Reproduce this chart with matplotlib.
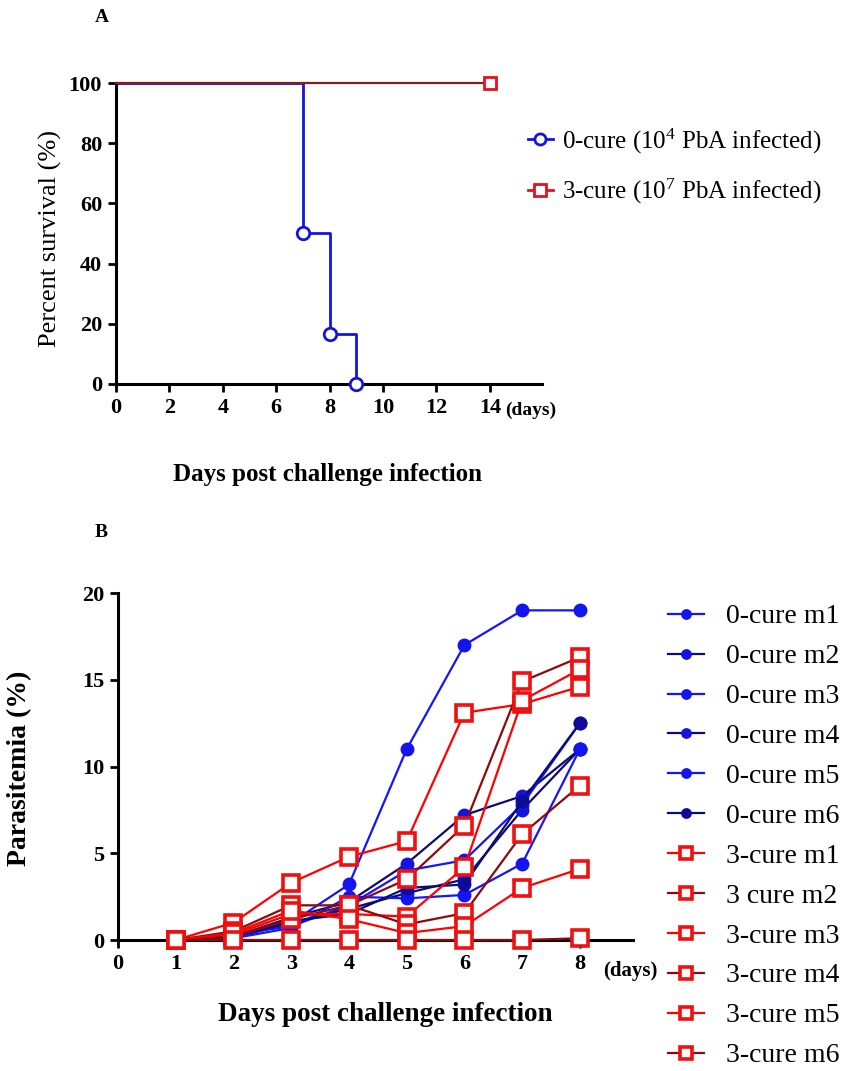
import matplotlib
matplotlib.use("Agg")
import matplotlib.pyplot as plt

plt.rcParams['font.family'] = ['Liberation Serif', 'DejaVu Serif']
plt.rcParams['mathtext.fontset'] = 'custom'
plt.rcParams['mathtext.rm'] = 'Liberation Serif'
plt.rcParams['mathtext.it'] = 'Liberation Serif:italic'
plt.rcParams['mathtext.bf'] = 'Liberation Serif:bold'

# panel A: survival
surv_days = [0, 7, 8, 9]
surv_0cure = [100, 50, 16.67, 0]
surv_3cure_days = [0, 14]
surv_3cure = [100, 100]
a_xticks = [0, 2, 4, 6, 8, 10, 12, 14]
a_yticks = [0, 20, 40, 60, 80, 100]

# panel B: parasitemia per mouse
days = [1, 2, 3, 4, 5, 6, 7, 8]
cure0 = {
    '0-cure m1': [0, 0.1, 1.0, 3.2, 11.0, 17.0, 19.0, 19.0],
    '0-cure m2': [0, 0.2, 1.3, 2.2, 4.4, 7.2, 8.3, 11.0],
    '0-cure m3': [0, 0.3, 0.8, 2.0, 4.0, 4.6, 7.8, 12.5],
    '0-cure m4': [0, 0.2, 1.0, 1.8, 2.7, 3.5, 7.5, 11.0],
    '0-cure m5': [0, 0.1, 0.7, 2.5, 2.4, 2.6, 4.4, 11.0],
    '0-cure m6': [0, 0.2, 1.1, 1.5, 3.0, 3.2, 8.0, 12.5],
}
cure3 = {
    '3-cure m1': [0, 1.0, 3.3, 4.8, 5.7, 13.1, 13.6, 14.6],
    '3 cure m2': [0, 0.5, 2.0, 2.0, 3.5, 6.6, 14.9, 16.3],
    '3-cure m3': [0, 0.3, 1.5, 1.5, 1.35, 4.2, 13.8, 15.6],
    '3-cure m4': [0, 0.2, 1.2, 2.0, 0.9, 1.55, 6.1, 8.9],
    '3-cure m5': [0, 0.4, 1.7, 1.2, 0.4, 0.8, 3.0, 4.1],
    '3-cure m6': [0, 0, 0, 0, 0, 0, 0, 0.1],
}
b_xticks = [0, 1, 2, 3, 4, 5, 6, 7, 8]
b_yticks = [0, 5, 10, 15, 20]

blue_lines = ['#1414ff', '#0c0c70', '#1414ff', '#0c0c70', '#1414ff', '#0c0c70']
blue_marks = ['#1414ee', '#1414dd', '#1414ee', '#1414dd', '#1414ee', '#0c0c99']
red_lines = ['#ff0000', '#8b0a0a', '#ff0000', '#8b0a0a', '#ff0000', '#8b0a0a']


def style_axes(ax):
    for s in ['top', 'right']:
        ax.spines[s].set_visible(False)
    for s in ['left', 'bottom']:
        ax.spines[s].set_linewidth(2.2)
    ax.tick_params(direction='out', length=6, width=2, labelsize=16, pad=4)
    for lab in ax.get_xticklabels() + ax.get_yticklabels():
        lab.set_fontweight('bold')


fig = plt.figure(figsize=(8.54, 10.71), dpi=100)

# ---- A ----
axA = fig.add_axes([0.1358, 0.6415, 0.4988, 0.2810])
axA.step(surv_days, surv_0cure, where='post', color='#1414e0', lw=2, clip_on=False, zorder=2)
axA.step(surv_3cure_days, surv_3cure, where='post', color='#8b1a1a', lw=1.6,
         clip_on=False, zorder=3)
axA.plot(surv_3cure_days[-1:], surv_3cure[-1:], 's', mfc='white', mec='#e8101a',
         mew=2, ms=9, clip_on=False, zorder=4)
axA.plot(surv_days[1:], surv_0cure[1:], 'o', mfc='white', mec='#1414e0', mew=2, ms=9,
         clip_on=False, zorder=4)
axA.set_xlim(0, 15.95)
axA.set_ylim(0, 100)
axA.set_xticks(a_xticks)
axA.set_yticks(a_yticks)
style_axes(axA)

hA = [plt.Line2D([], [], color='#1414e0', lw=2, marker='o', mfc='white', mec='#1414e0', mew=2, ms=8),
      plt.Line2D([], [], color='#e8101a', lw=2, marker='s', mfc='white', mec='#e8101a', mew=2, ms=8)]
fig.legend(hA, ['0-cure (10$^{4}$ PbA infected)', '3-cure (10$^{7}$ PbA infected)'],
           loc='upper left', bbox_to_anchor=(0.618, 0.882), frameon=False, fontsize=18,
           handlelength=1.0, handletextpad=0.35, labelspacing=0.85, borderpad=0, borderaxespad=0)

fig.text(0.119, 0.984, 'A', fontsize=14, fontweight='bold', ha='center', va='center')
fig.text(0.0585, 0.777, 'Percent survival (%)', fontsize=19, rotation=90, ha='center', va='center')
fig.text(0.384, 0.5565, 'Days post challenge infection', fontsize=18, fontweight='bold',
         ha='center', va='center')
fig.text(0.591, 0.617, '(days)', fontsize=14, fontweight='bold', ha='left', va='center')

# ---- B ----
axB = fig.add_axes([0.1382, 0.1223, 0.603, 0.324])
handles = []
labels = []
for i, (name, vals) in enumerate(cure0.items()):
    ln, = axB.plot(days, vals, color=blue_lines[i], lw=1.6, marker='o', ms=9,
                   mfc=blue_marks[i], mec=blue_marks[i], clip_on=False, zorder=3)
    handles.append(ln)
    labels.append(name)
for i, (name, vals) in enumerate(cure3.items()):
    ln, = axB.plot(days, vals, color=red_lines[i], lw=1.6, marker='s', ms=11,
                   mfc='white', mec='#f01010', mew=2.6, clip_on=False, zorder=4)
    handles.append(ln)
    labels.append(name)
axB.set_xlim(0, 8.92)
axB.set_ylim(0, 20)
axB.set_xticks(b_xticks)
axB.set_yticks(b_yticks)
style_axes(axB)

fig.legend(handles, labels, loc='upper left', bbox_to_anchor=(0.782, 0.436), frameon=False,
           fontsize=20, handlelength=1.3, handletextpad=0.8, labelspacing=0.52,
           borderpad=0, borderaxespad=0, markerscale=0.75)

fig.text(0.119, 0.503, 'B', fontsize=14, fontweight='bold', ha='center', va='center')
fig.text(0.0234, 0.283, 'Parasitemia (%)', fontsize=20, fontweight='bold', rotation=90,
         ha='center', va='center')
fig.text(0.451, 0.0523, 'Days post challenge infection', fontsize=19.5, fontweight='bold',
         ha='center', va='center')
fig.text(0.706, 0.0934, '(days)', fontsize=15, fontweight='bold', ha='left', va='center')

fig.savefig('out.png', dpi=100)
